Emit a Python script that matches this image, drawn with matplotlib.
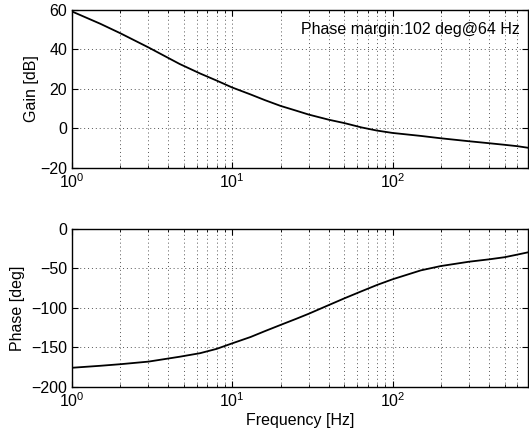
import numpy as np
import matplotlib
matplotlib.use('Agg')
import matplotlib.pyplot as plt
from matplotlib.ticker import LogLocator, NullFormatter

plt.rcParams['font.family'] = ['Liberation Sans', 'DejaVu Sans']
plt.rcParams['font.size'] = 11.5
plt.rcParams['mathtext.fontset'] = 'custom'
plt.rcParams['mathtext.rm'] = 'Liberation Sans'

# values
freq_hz = [1, 1.5, 2, 3, 4.7, 6.3, 8, 10, 13, 16, 20, 25, 30, 40, 50, 64, 80, 100,
           150, 200, 300, 400, 500, 600, 700]
gain_db = [59, 52.8, 48, 40.8, 32.4, 27.6, 24, 20.5, 17, 14.1, 11.2, 8.8, 6.8, 4.2, 2.5, 0.3, -1.3, -2.5,
           -4, -5.2, -6.7, -7.7, -8.5, -9.2, -10]
phase_deg = [-176, -173.5, -171.5, -168.2, -162, -157.5, -152, -145, -137, -129.5, -121.7, -114, -107.5,
             -96.5, -88, -79, -71, -63.8, -52.5, -47, -41.5, -38.5, -35.8, -32.5, -29.6]

gain_ticks = [-20, 0, 20, 40, 60]
phase_ticks = [-200, -150, -100, -50, 0]
margin_text = 'Phase margin:102 deg@64 Hz'

fig = plt.figure(figsize=(5.29, 4.36), dpi=100)
ax_gain = fig.add_axes([0.1361, 0.6158, 0.862, 0.3624])
ax_phase = fig.add_axes([0.1361, 0.1131, 0.862, 0.3617])


def style(ax):
    ax.set_xscale('log')
    ax.set_xlim(1, 700)
    ax.xaxis.set_minor_locator(LogLocator(base=10, subs=np.arange(2, 10)))
    ax.xaxis.set_minor_formatter(NullFormatter())
    ax.grid(True, which='major', axis='both', linestyle=(0, (1, 3)), color='#555555', linewidth=0.7)
    ax.grid(True, which='minor', axis='x', linestyle=(0, (1, 3)), color='#555555', linewidth=0.7)
    ax.tick_params(which='both', direction='in', top=True, right=True, labelsize=11.5)
    ax.tick_params(which='major', length=4)
    ax.tick_params(which='minor', length=2)
    for s in ax.spines.values():
        s.set_linewidth(1.0)


ax_gain.plot(freq_hz, gain_db, '-k', linewidth=1.3)
style(ax_gain)
ax_gain.set_ylim(-20, 60)
ax_gain.set_yticks(gain_ticks)
ax_gain.set_ylabel('Gain [dB]')
ax_gain.yaxis.set_label_coords(-0.072, 0.5)
ax_gain.text(0.982, 0.845, margin_text, transform=ax_gain.transAxes,
             ha='right', va='baseline', fontsize=11.5)

ax_phase.plot(freq_hz, phase_deg, '-k', linewidth=1.3)
style(ax_phase)
ax_phase.set_ylim(-200, 0)
ax_phase.set_yticks(phase_ticks)
ax_phase.set_ylabel('Phase [deg]')
ax_phase.yaxis.set_label_coords(-0.103, 0.5)
ax_phase.set_xlabel('Frequency [Hz]', labelpad=2)

fig.savefig('out.png', dpi=100)
